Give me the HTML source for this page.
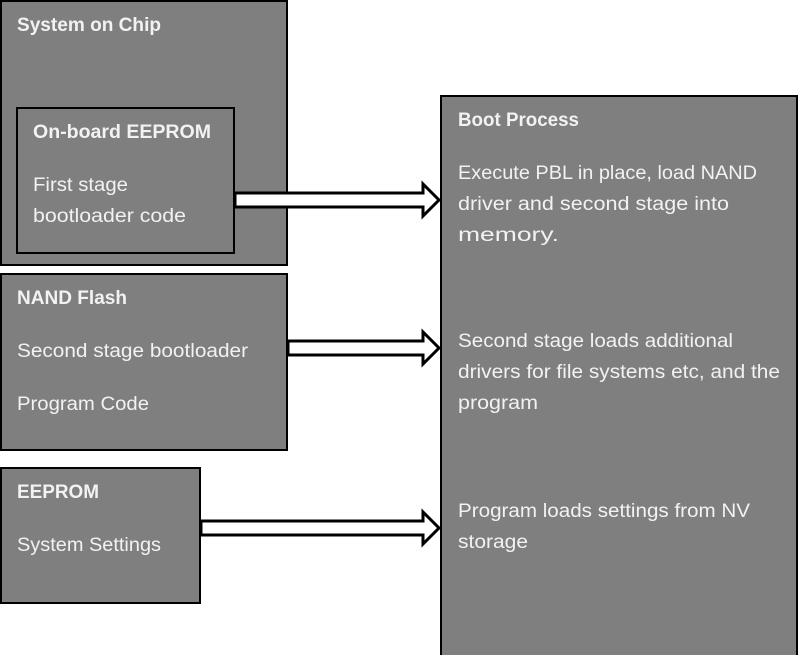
<!DOCTYPE html>
<html><head><style>html,body{margin:0;padding:0;background:#fff}svg{display:block}</style></head>
<body>
<svg width="800" height="655" viewBox="0 0 800 655" xmlns="http://www.w3.org/2000/svg" font-family="Liberation Sans, sans-serif" font-size="19" fill="#f2f2f2">
<g fill="#7f7f7f" stroke="#000" stroke-width="2">
<rect x="1" y="1" width="286" height="264"/>
<rect x="17" y="108" width="217" height="145"/>
<rect x="1" y="274" width="286" height="176"/>
<rect x="1" y="468" width="199" height="135"/>
<rect x="441" y="96" width="356" height="570"/>
</g>
<g fill="#fff" stroke="#000" stroke-width="3" stroke-linejoin="miter">
<polygon points="235,193 423,193 423,184 439,200 423,216 423,207 235,207"/>
<polygon points="288,341 423,341 423,332 439,348 423,364 423,355 288,355"/>
<polygon points="201,521 423,521 423,512 439,528 423,544 423,535 201,535"/>
</g>
<g>
<text x="17" y="31" font-weight="bold" textLength="144" lengthAdjust="spacingAndGlyphs">System on Chip</text>
<text x="33" y="138" font-weight="bold" textLength="178" lengthAdjust="spacingAndGlyphs">On-board EEPROM</text>
<text x="33" y="191" textLength="95" lengthAdjust="spacingAndGlyphs">First stage</text>
<text x="33" y="222" textLength="153" lengthAdjust="spacingAndGlyphs">bootloader code</text>
<text x="17" y="304" font-weight="bold" textLength="110" lengthAdjust="spacingAndGlyphs">NAND Flash</text>
<text x="17" y="357" textLength="231" lengthAdjust="spacingAndGlyphs">Second stage bootloader</text>
<text x="17" y="410" textLength="132" lengthAdjust="spacingAndGlyphs">Program Code</text>
<text x="17" y="498" font-weight="bold" textLength="82" lengthAdjust="spacingAndGlyphs">EEPROM</text>
<text x="17" y="551" textLength="144" lengthAdjust="spacingAndGlyphs">System Settings</text>
<text x="458" y="126" font-weight="bold" textLength="121" lengthAdjust="spacingAndGlyphs">Boot Process</text>
<text x="458" y="179" textLength="299" lengthAdjust="spacingAndGlyphs">Execute PBL in place, load NAND</text>
<text x="458" y="210" textLength="271" lengthAdjust="spacingAndGlyphs">driver and second stage into</text>
<text x="458" y="241" textLength="101" lengthAdjust="spacingAndGlyphs">memory.</text>
<text x="458" y="347" textLength="275" lengthAdjust="spacingAndGlyphs">Second stage loads additional</text>
<text x="458" y="378" textLength="322" lengthAdjust="spacingAndGlyphs">drivers for file systems etc, and the</text>
<text x="458" y="409" textLength="80" lengthAdjust="spacingAndGlyphs">program</text>
<text x="458" y="517" textLength="292" lengthAdjust="spacingAndGlyphs">Program loads settings from NV</text>
<text x="458" y="548" textLength="70" lengthAdjust="spacingAndGlyphs">storage</text>
</g>
</svg>
</body></html>
